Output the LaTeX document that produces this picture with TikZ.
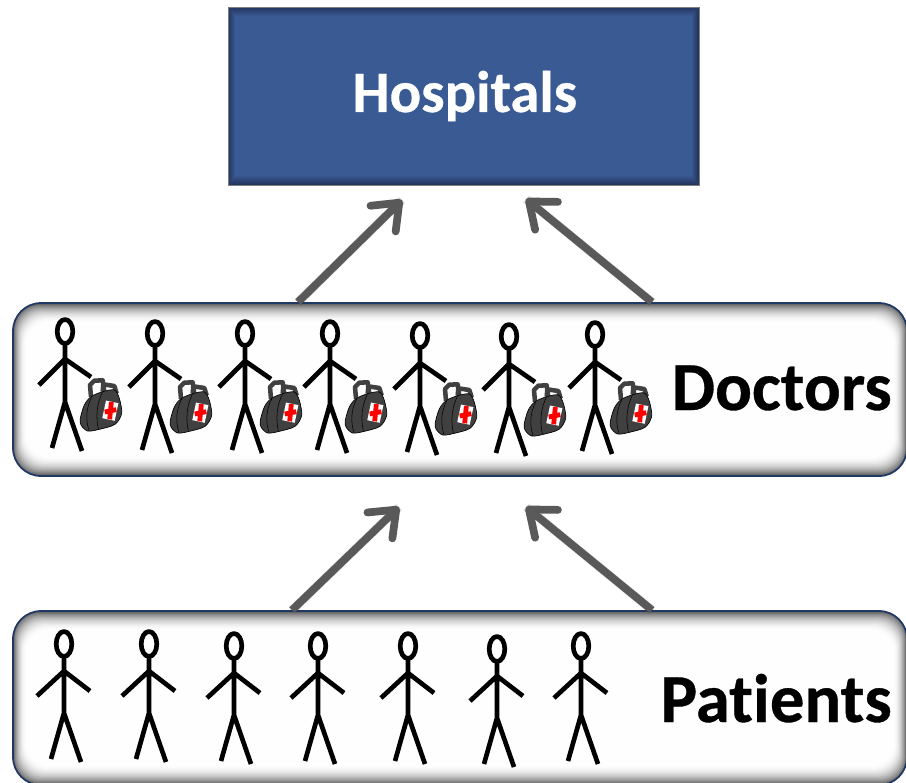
\documentclass[tikz,border=0pt]{standalone}
\usepackage{fontspec}
\setmainfont[Ligatures=NoCommon,FakeBold=0.4]{Carlito}
\setmainfont[Ligatures=NoCommon,BoldFont={Carlito Bold},BoldFeatures={FakeBold=0.5}]{Carlito}
\usetikzlibrary{arrows.meta,calc}
\definecolor{boxline}{HTML}{1F3864}
\definecolor{hospblue}{HTML}{3A5A94}
\definecolor{hospdark}{HTML}{1E2E52}
\definecolor{arrowgray}{HTML}{595959}
\definecolor{bagdark}{HTML}{404040}
\tikzset{
  x=0.75pt,y=-0.75pt,
  softshadow/.pic={
    \foreach \i in {0,...,19}{
      \pgfmathsetmacro\g{65*(1-\i/20)*(1-\i/20)}
      \fill[black!\g!white,rounded corners=18pt]
        ([xshift=\i*0.5pt,yshift=-\i*0.75pt]path picture bounding box.north west)
        rectangle ([xshift=-\i*0.5pt,yshift=\i*0.75pt]path picture bounding box.south east);
    }
  },
  rowbox/.style={draw=boxline,line width=1.3pt,fill=white,rounded corners=21pt,
    minimum width=894*0.75pt,inner sep=0pt,
    path picture={\pic{softshadow};}},
  hospbox/.style={draw=gray,line width=0.5pt,fill=hospblue,inner sep=0pt,
    minimum width=471*0.75pt,minimum height=178*0.75pt,text=white,
    font=\bfseries\fontsize{44}{50}\selectfont,
    path picture={
      \foreach \i in {0,...,9}{
        \pgfmathsetmacro\g{85-\i*9.5}
        \fill[hospdark!\g!hospblue]
          ([xshift=\i*0.6pt,yshift=-\i*0.75pt]path picture bounding box.north west)
          rectangle ([xshift=-\i*0.6pt,yshift=\i*0.75pt]path picture bounding box.south east);
      }
    }},
  rowlabel/.style={anchor=base east,inner sep=0pt,font=\bfseries\fontsize{51.5}{56}\selectfont,text=black},
  flow/.style={draw=arrowgray,line width=5.8pt,line cap=butt,
    -{Straight Barb[length=17pt,width=27pt,round]}},
  flowshadow/.style={draw=black,opacity=0.12,line width=6.5pt,shift={(2,3)}},
  stick/.style={draw=black,line width=3.5pt,line cap=butt,line join=round},
  person/.pic={
    \draw[stick] (0,14.5) ellipse [x radius=7.8,y radius=12];
    \draw[stick] (0,27) -- (0,85)
      (-26,68) -- (0,42) -- (26,60)
      (-13,131) -- (0,85) -- (17,134);
  },
  patient/.pic={
    \draw[stick] (0,15) ellipse [x radius=7.8,y radius=12.5];
    \draw[stick] (0,28) -- (0,84)
      (-27,67) -- (0,42) -- (26,62)
      (-13,130) -- (0,84) -- (17,133);
  },
  bag/.pic={
    \begin{scope}[x=0.25pt,y=-0.25pt]
      \draw[bagdark,line width=3.4pt,line join=round]
        (78,239) -- (75,204) -- (88,191) -- (113,190) -- (118,225)
        (113,224) -- (115,202) -- (148,207) -- (155,229);
      \draw[black,line width=0.5pt,fill=bagdark] plot[smooth cycle] coordinates
        {(46,304) (58,264) (78,239) (113,224) (148,219) (163,244) (170,289) (150,322) (103,337) (68,342) (48,324)};
      \draw[black,line width=0.4pt] (80,240) .. controls (62,275) and (62,310) .. (72,340);
      \draw[black,line width=0.4pt] (112,226) .. controls (95,260) and (92,300) .. (100,335);
      \fill[white,rotate around={-12:(136,281)}] (117,254) rectangle (155,308);
      \draw[red,line width=3.6pt] (139,255) -- (134,307) (119,285) -- (154,278);
    \end{scope}
  }
}
\begin{document}
\begin{tikzpicture}
  \useasboundingbox (0,0) rectangle (906,782);
  \fill[white] (0,0) rectangle (906,782);

  \node[hospbox] (hospitals) at (463.5,96) {\raisebox{2pt}{\kern2pt Hospitals}};
  \node[rowbox,minimum height=173*0.75pt] (doctors) at (460,389.5) {};
  \node[rowbox,minimum height=174*0.75pt] (patients) at (460,698) {};

  \node[rowlabel] (doctorslabel) at (892,410) {Doctors};
  \node[rowlabel] (patientslabel) at (892,722) {Patients};

  \coordinate (a1) at (402,200);
  \coordinate (a2) at (526,199);
  \coordinate (a3) at (399,507);
  \coordinate (a4) at (526,507);
  \coordinate (d1) at (298,0);
  \coordinate (d2) at (652,0);
  \coordinate (p1) at (292,0);
  \coordinate (p2) at (652,0);

  \draw[flowshadow] (doctors.north -| d1) -- (a1);
  \draw[flowshadow] (doctors.north -| d2) -- (a2);
  \draw[flowshadow] (patients.north -| p1) -- (a3);
  \draw[flowshadow] (patients.north -| p2) -- (a4);
  \draw[flow] (doctors.north -| d1) -- (a1);
  \draw[flow] (doctors.north -| d2) -- (a2);
  \draw[flow] (patients.north -| p1) -- (a3);
  \draw[flow] (patients.north -| p2) -- (a4);

  \foreach \px/\py in {65/317,155/319,245/319,330/319,420/321,509/322,595/320}{
    \pic at (\px,\py) {person};
    \pic at (\px,\py) {bag};
  }
  \foreach \px/\py in {64/629,149/629,234/631,318/631,408/631,497/634,581/631}{
    \pic at (\px,\py) {patient};
  }
\end{tikzpicture}
\end{document}
